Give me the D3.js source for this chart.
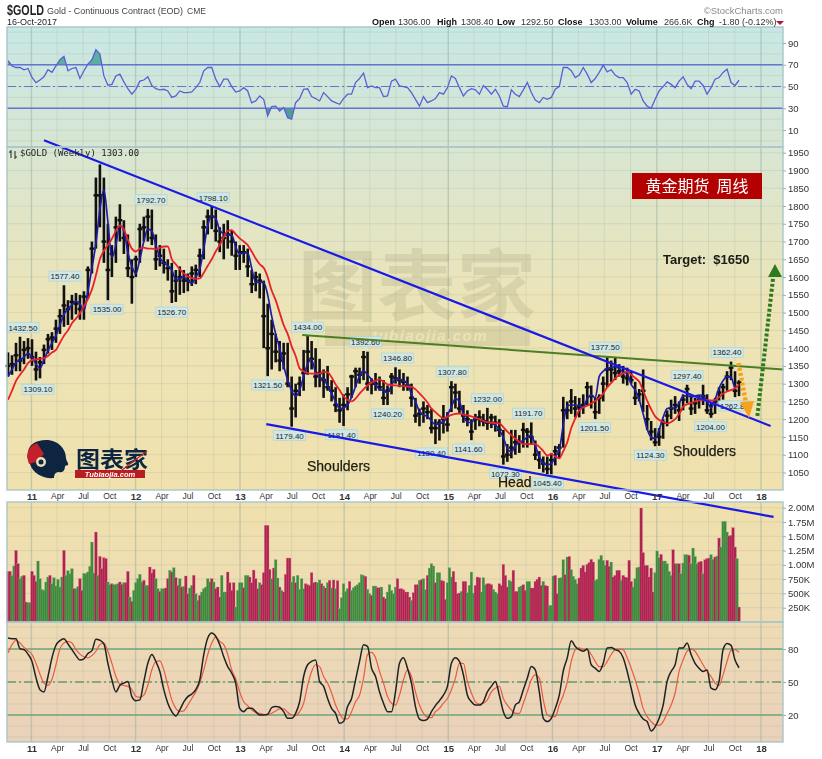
<!DOCTYPE html>
<html>
<head>
<meta charset="utf-8">
<script src="https://cdn.jsdelivr.net/npm/d3@7"></script>
<style>
  html, body { margin: 0; padding: 0; background: #fff; }
  svg { display: block; filter: blur(0.3px); }
  text { font-family: "Liberation Sans", Arial, sans-serif; }
  .axis path { display: none; }
  .axis line { stroke: #8fb0b0; }
  .axis text { fill: #333; font-size: 9.5px; }
  .time-axis line { display: none; }
  .time-axis text { fill: #333; font-size: 8.5px; }
</style>
</head>
<body>
<svg id="chart" width="822" height="759"></svg>
<script>
var firstWeek = new Date(2010, 9, 11);

var priceHigh = [1388,1380,1415,1432,1420,1428,1425,1390,1375,1410,1440,1445,1480,1510,1577,1535,1550,1555,1550,1560,1630,1700,1880,1917,1880,1750,1690,1770,1805,1760,1720,1650,1660,1750,1770,1792,1790,1720,1690,1680,1650,1640,1620,1630,1620,1610,1630,1635,1680,1760,1790,1798,1790,1740,1750,1760,1730,1700,1690,1690,1680,1620,1615,1610,1590,1525,1480,1440,1420,1415,1415,1320,1300,1320,1395,1434,1420,1400,1370,1340,1350,1310,1290,1260,1270,1290,1325,1345,1345,1392,1390,1315,1330,1320,1310,1295,1330,1346,1340,1330,1320,1300,1260,1230,1250,1240,1230,1200,1200,1240,1220,1307,1300,1280,1240,1225,1200,1215,1225,1215,1232,1215,1210,1200,1170,1130,1170,1170,1155,1190,1175,1191,1140,1110,1095,1095,1105,1125,1130,1263,1250,1285,1265,1260,1270,1305,1295,1260,1270,1320,1377,1365,1375,1355,1350,1345,1335,1305,1285,1340,1240,1195,1175,1175,1200,1225,1255,1265,1250,1270,1297,1270,1260,1265,1297,1270,1245,1260,1290,1300,1335,1362,1335,1310];
var priceLow = [1320,1325,1335,1335,1355,1370,1350,1309,1315,1355,1385,1395,1415,1440,1460,1465,1480,1495,1480,1480,1540,1610,1680,1740,1640,1535,1600,1640,1700,1665,1600,1525,1600,1640,1700,1700,1690,1620,1630,1610,1590,1527,1530,1550,1555,1560,1575,1580,1600,1650,1720,1735,1700,1670,1650,1680,1660,1620,1620,1640,1600,1555,1560,1540,1400,1321,1340,1360,1335,1340,1290,1179,1205,1265,1280,1325,1340,1290,1290,1260,1280,1250,1220,1190,1181,1225,1260,1290,1300,1310,1280,1270,1280,1280,1240,1240,1270,1300,1290,1280,1280,1235,1190,1180,1190,1200,1160,1130,1140,1160,1165,1220,1230,1215,1190,1180,1141,1170,1180,1180,1170,1175,1165,1150,1072,1080,1090,1100,1105,1120,1120,1130,1085,1060,1050,1045,1045,1070,1090,1120,1200,1215,1205,1205,1215,1240,1230,1200,1215,1250,1290,1305,1310,1320,1300,1295,1300,1240,1250,1220,1170,1140,1124,1125,1145,1180,1200,1215,1195,1225,1245,1212,1215,1230,1240,1215,1204,1215,1240,1255,1280,1310,1262,1265];
var priceClose = [1350,1355,1380,1365,1395,1400,1375,1340,1360,1395,1425,1430,1455,1490,1520,1510,1530,1525,1510,1545,1620,1680,1830,1830,1700,1620,1665,1740,1760,1710,1625,1600,1650,1735,1740,1770,1710,1650,1660,1640,1625,1560,1590,1600,1590,1590,1610,1620,1660,1740,1770,1770,1730,1700,1710,1720,1700,1660,1670,1670,1630,1580,1600,1590,1490,1400,1440,1390,1365,1385,1300,1230,1280,1300,1330,1390,1370,1320,1330,1310,1290,1280,1240,1225,1240,1270,1320,1335,1325,1375,1300,1300,1300,1290,1260,1280,1320,1315,1310,1305,1295,1260,1210,1215,1230,1220,1175,1175,1190,1200,1185,1290,1275,1230,1210,1200,1165,1200,1205,1195,1190,1205,1190,1170,1095,1100,1120,1135,1135,1170,1165,1150,1100,1085,1075,1060,1085,1110,1120,1225,1225,1250,1230,1235,1240,1290,1265,1220,1260,1300,1340,1340,1330,1335,1320,1315,1310,1260,1270,1280,1200,1165,1135,1150,1190,1210,1230,1240,1225,1255,1285,1230,1245,1255,1265,1225,1215,1250,1275,1290,1320,1345,1280,1303];
var maFast = [1320,1340,1360,1366,1375,1385,1375,1355,1343,1367,1392,1415,1435,1465,1495,1510,1522,1532,1525,1505,1560,1625,1695,1790,1845,1755,1655,1690,1746,1730,1670,1630,1610,1650,1700,1735,1730,1690,1655,1640,1632,1620,1592,1595,1600,1590,1582,1600,1622,1680,1745,1772,1765,1732,1722,1718,1718,1685,1665,1668,1668,1625,1585,1585,1585,1550,1490,1440,1400,1350,1310,1280,1265,1282,1320,1355,1368,1330,1318,1312,1295,1272,1250,1230,1232,1240,1262,1292,1322,1336,1325,1312,1298,1285,1280,1275,1295,1313,1312,1308,1300,1270,1250,1222,1212,1208,1195,1185,1188,1192,1212,1235,1258,1250,1212,1192,1190,1204,1200,1195,1192,1188,1184,1170,1148,1118,1108,1125,1135,1140,1150,1155,1125,1095,1075,1072,1075,1095,1113,1185,1238,1240,1240,1238,1235,1258,1268,1260,1320,1335,1343,1346,1348,1342,1333,1329,1298,1282,1255,1215,1172,1150,1146,1170,1205,1230,1232,1231,1245,1265,1266,1263,1265,1268,1265,1250,1232,1255,1287,1308,1320,1318,1290,1296];
var maSlow = [1255,1280,1308,1325,1340,1358,1366,1368,1370,1372,1378,1388,1395,1415,1435,1450,1470,1483,1498,1518,1538,1565,1605,1650,1674,1690,1708,1730,1745,1735,1705,1680,1672,1680,1683,1680,1680,1678,1682,1686,1686,1650,1636,1622,1610,1602,1598,1595,1596,1612,1632,1650,1672,1690,1712,1730,1732,1720,1709,1700,1690,1672,1652,1636,1626,1600,1562,1535,1500,1465,1440,1405,1378,1343,1335,1330,1328,1328,1329,1333,1332,1318,1298,1282,1264,1255,1250,1258,1272,1284,1295,1303,1308,1312,1305,1298,1296,1295,1294,1293,1292,1291,1284,1273,1261,1247,1230,1220,1210,1202,1207,1212,1215,1216,1213,1211,1208,1204,1200,1195,1192,1190,1189,1188,1178,1165,1155,1145,1136,1130,1130,1130,1130,1122,1110,1098,1102,1095,1090,1110,1135,1175,1202,1225,1233,1238,1244,1251,1260,1272,1290,1302,1315,1324,1329,1334,1325,1316,1306,1280,1252,1228,1208,1198,1192,1188,1192,1200,1215,1235,1242,1246,1250,1253,1254,1254,1253,1254,1262,1272,1278,1282,1287,1297];
var rsiValues = [73.7,69,67.5,67.5,65.4,66.6,58.3,53.7,56,59,65.4,63,69,74.6,77.7,64.5,66.6,67.5,57.4,64.5,70.6,74.6,83.8,79.8,59.8,51.2,52,59.8,61.4,54.3,48,43,47.5,55,56,59,51,48,47,47.5,46,40,41.4,46,44.5,44.5,45,49,53.7,64.5,67.5,67.5,56.8,50,56.8,56.8,50,45,46,49,46,35,36.8,41.4,38.3,23,31.5,32,27.5,30.6,21.4,20,35.2,39,47.5,48,40.8,39,36.8,44.5,40.8,36.8,35.2,33.7,39,43,43,53.7,57.4,62.3,49,50.6,49,49,40.8,41.4,55,56.8,50.6,50,49,44.5,38.3,32,40.8,35.2,36.8,39,44.5,43,49,59.8,57.4,49,41.4,46,48,47,43,51,47.5,43,47.5,41.4,32,31.5,47,43,40.8,47,53.7,44.5,37.7,35.2,40,38.3,40,47.5,50,67.5,67.5,64.5,58.3,60.5,67.5,61.4,53.7,57.4,63,69.7,63.5,65.4,60.5,58.3,58.3,53.7,43,47.5,46,36.8,32,30,38.3,46,50,54.3,52,49,55,59,52,48,55,55,51,43,49,56.8,58.3,63,66,53.7,51,55.8];
var stochK = [90,89.4,89.4,80.3,79.4,75.4,68.7,54,43,41,55,72,83.4,87.6,89.4,84.6,79.4,74,70,71,76,78.5,89,88,84.6,67,52,41,47,49,50.5,36.7,33,33.7,50.5,67,75,68.7,59.6,43,30.7,23,19,24.6,32,36.7,39,43,52,75,90,94.6,91.6,84,73,64,58,49,26,23,26,26,23,20,20,20.6,26.7,27.6,27,23,17,17,21.5,32,55,65.7,68.7,70,50.5,46,35,26,21.5,12.4,14,27.6,35,52,68.7,84,82.4,62.6,55,41,30.7,23,23,41,67,72,62.6,49,27.6,16.3,15,16.3,23,28.5,33,38,46,67,72,68.7,56.5,38,32,29,29,32,41,46,50.5,38,23,17,18.5,29,32,43,53.5,64,61,41,17,14,17,26,38,60,72,87.6,82.4,79.4,78,80,65.7,62.6,59.6,67,81,81.5,79.4,78,72,59.6,44.4,29,21.5,16.3,14,5.4,9.3,17,29,50.5,59.6,65.7,81,81,85.5,75,67,62.6,59.6,61,44.4,43,50.5,79.4,85,83.3,70,63];
var stochD = [76.3,84,88,85.5,81.5,78.5,75,67,57,49,47,52.5,65.7,80.3,85.5,87,85.5,79.4,75.4,73,72,74,78,84,85.5,78,67,55,48,46.8,46,43,37,36,38,47,61,68.7,69.3,61,47,33.7,26,23,23.7,29,35,41,49,61,75,85.5,90.6,87,84,75,61,53,41,32,28.5,24.6,22.4,21.5,20.6,20,21.5,23.7,25.5,25.5,22.4,20,19.4,23,30.7,47,59.6,65.7,64,55,49,40,29,21.5,16.4,16.4,23,32,38,53.5,75,77,72,59.6,49,36.7,30.7,29,38,52,61,55,41,29,21.5,18,17.5,23,26,30.7,35,43,53.5,67,67,50.5,40,32,30,30.7,33.7,41,44.4,46,35,29,24.6,21.5,21.5,30.7,41,52,56.5,53.5,33.7,20,18.5,18.5,29,38,50,68.7,79.4,81,79.4,79.4,75,68.7,64,64,68.7,75,79.4,80,79.4,72,62.6,52,40,26,18.5,14,11,10.6,14,21.5,29,40,59.6,70,78,80,78,72,65.7,59.6,55,49,47,56.5,68.7,78.8,79.4,77];

// one value per week, in thousands, colour letter for each week below
var volume = [886,886,816,980,1253,1020,758,800,816,350,338,338,886,816,711,1067,758,571,554,700,787,816,670,775,630,746,612,787,1253,816,898,845,933,583,583,618,758,554,851,845,875,974,1399,857,1574,816,1148,933,1125,1108,700,653,670,653,659,670,700,659,688,688,886,437,361,554,688,758,834,700,729,641,641,962,857,921,758,583,536,583,583,595,758,904,875,950,775,641,758,612,624,805,496,595,641,816,496,379,466,525,583,612,758,700,758,700,583,612,437,816,525,525,875,688,554,688,262,554,688,688,600,816,816,787,688,909,758,583,688,653,863,1691,1691,921,758,944,1090,770,612,554,525,834,1119,1119,700,800,688,816,571,758,583,670,653,641,863,688,700,688,735,670,630,595,688,729,595,735,583,723,233,425,670,536,583,711,554,600,630,653,688,828,816,799,571,496,466,630,630,600,600,612,437,408,525,653,554,496,612,758,583,583,565,525,525,437,379,513,653,653,729,740,758,565,816,944,1020,980,688,863,863,729,717,396,688,950,787,886,700,496,507,536,711,711,513,641,875,507,641,787,775,525,775,653,670,670,653,571,525,496,670,641,1009,816,612,729,711,904,536,536,612,630,653,554,711,711,595,595,711,746,787,641,711,641,630,292,292,805,816,496,770,775,1090,828,1137,1148,915,800,746,670,770,944,991,875,1009,1038,1096,1049,729,746,1096,1166,1079,991,1079,974,1049,787,816,904,904,729,816,787,775,1079,711,612,758,950,962,1994,1213,991,991,787,944,525,863,1242,1125,1183,1067,1067,1020,886,816,1265,1020,1020,1020,845,1032,1178,1178,1166,1020,1294,1148,1020,1049,1061,845,1090,1108,1119,1178,1096,1137,1154,1469,1312,1761,1761,1574,1504,1516,1650,1312,1108,262];
var volumeColors = "rrggrrggrr" + "ggrrrggggg" + "grggggggrg" + "gggrggrrgg" + "ggggrgrrrr" + "ggrgggrrgr" + "rgrgggggrg" + "grrrggrggr" + "rgrgrrgrgr" + "rggrggrggg" +
  "ggrgrrrggg" + "rrrrggggrg" + "grrrrrgrrr" + "rrgrggrgrr" + "rrggrggggr" + "rrrrrggrgr" + "grgrgrgggg" + "grgggggggr" + "ggrggrrgrr" + "gggggrrrrr" +
  "rrgrrrgrgg" + "rgggrggrrr" + "gggrrrrgrr" + "ggggrrrggg" + "rrrgggrrrr" + "rggrrrggrr" + "ggrrrrrrgr" + "rgggrrgggr" + "grggggrrrr" + "rrrrgggggg" +
  "rrgrrrrgrr" + "rrrggggrrr" + "rrrrgggrgg" + "gggrrgrggg" + "grggggrrgr" + "rrggrgrggg" + "grrrrgr";

var priceTicks = d3.range(1050, 1951, 50);
var rsiTicks = [90, 70, 50, 30, 10];
var volumeTicks = [250, 500, 750, 1000, 1250, 1500, 1750, 2000];
var volumeTickLabels = ["250K", "500K", "750K", "1.00M", "1.25M", "1.50M", "1.75M", "2.00M"];
var stochTicks = [80, 50, 20];

// callouts: text, week of the bar, above (1) or below (-1)
var calloutPrices = ["1432.50","1309.10","1577.40","1535.00","1792.70","1526.70","1798.10","1321.50","1434.00","1179.40","1392.60","1181.40","1346.80","1240.20","1307.80","1130.40","1141.60","1232.00","1072.30","1191.70","1045.40","1377.50","1201.50","1297.40","1124.30","1362.40","1204.00","1262.80"];
var calloutWeeks = [7.5,15,28.5,49.6,71.6,82,102.7,130,150,141,179,167,195,190,222.4,212,230.5,240,249,260.5,270,299,293.6,340,321.6,360,351.7,363.7];
var calloutSides = [1,-1,1,-1,1,-1,1,-1,1,-1,1,-1,1,-1,1,-1,-1,1,-1,1,-1,1,-1,1,-1,1,-1,-1];

// drawn annotations as [week, price]
var upperTrend = [[18, 1985], [381.8, 1181]];
var lowerTrend = [[129.3, 1186], [383.3, 925]];
var neckline = [[147.3, 1437], [388.3, 1340]];
var orangeArrow = [[365.7, 1358], [369.5, 1245]];
var greenArrow = [[375.2, 1209], [383.2, 1605]];

var svg = d3.select("#chart");
var weekDate = function(w) { return d3.timeHour.offset(firstWeek, w * 168); };

var x = d3.scaleTime()
  .domain([new Date(2011, 0, 3), new Date(2018, 0, 1)])
  .range([32, 761]);
var panelLeft = 7, panelRight = 783;

var yRsi = d3.scaleLinear().domain([-5.5, 104.7]).range([147, 27]);
var yPrice = d3.scaleLinear().domain([1050, 1950]).range([472.5, 152.7]);
var yVol = d3.scaleLinear().domain([0, 2000]).range([622, 507.7]);
var yStoch = d3.scaleLinear().domain([-4.6, 104.6]).range([742, 622]);

var defs = svg.append("defs");
var grad = defs.append("linearGradient").attr("id", "bg")
  .attr("gradientUnits", "userSpaceOnUse")
  .attr("x1", 0).attr("x2", 0).attr("y1", 27).attr("y2", 742);
[[0, "#c8e7e4"], [0.17, "#d8e6d2"], [0.38, "#ece4b8"], [0.65, "#f0e1ad"], [0.83, "#eedbb4"], [1, "#ead1ba"]].forEach(function(s) {
  grad.append("stop").attr("offset", s[0]).attr("stop-color", s[1]);
});
var clip = function(id, y1, y2) {
  defs.append("clipPath").attr("id", id).append("rect")
    .attr("x", panelLeft).attr("width", panelRight - panelLeft).attr("y", y1).attr("height", y2 - y1);
};
clip("above70", 27, yRsi(70));
clip("below30", yRsi(30), 147);

svg.append("rect").attr("x", panelLeft).attr("y", 27).attr("width", panelRight - panelLeft).attr("height", 715).attr("fill", "url(#bg)");
svg.append("rect").attr("x", panelLeft).attr("y", 490).attr("width", panelRight - panelLeft).attr("height", 12).attr("fill", "#fff");

// grid
var quarters = d3.timeMonth.range(new Date(2011, 0, 1), new Date(2018, 0, 2), 3);
var panels = [[27, 147], [147, 490], [502, 622], [622, 742]];
panels.forEach(function(p) {
  svg.append("g").selectAll("line").data(quarters).enter().append("line")
    .attr("x1", function(d) { return x(d); }).attr("x2", function(d) { return x(d); })
    .attr("y1", p[0]).attr("y2", p[1])
    .attr("stroke", function(d) { return d.getMonth() === 0 ? "#8fa99c" : "#a5b8a5"; })
    .attr("stroke-opacity", function(d) { return d.getMonth() === 0 ? 0.45 : 0.28; })
    .attr("stroke-width", function(d) { return d.getMonth() === 0 ? 1.4 : 1; });
});
var hGrid = function(values, scale) {
  svg.append("g").selectAll("line").data(values).enter().append("line")
    .attr("x1", panelLeft).attr("x2", panelRight)
    .attr("y1", function(d) { return scale(d); }).attr("y2", function(d) { return scale(d); })
    .attr("stroke", "#8f9f90").attr("stroke-opacity", 0.2);
};
hGrid(d3.range(0, 101, 10), yRsi);
hGrid(priceTicks, yPrice);
hGrid(volumeTicks, yVol);
hGrid(d3.range(0, 101, 10), yStoch);

// watermark
var mark = svg.append("g");
mark.append("text").attr("x", 298).attr("y", 315).attr("font-size", 78).attr("font-weight", 700)
  .attr("textLength", 238).attr("lengthAdjust", "spacingAndGlyphs")
  .style("font-family", "'Noto Sans CJK SC'").attr("fill", "#8f8f6a").attr("fill-opacity", 0.2).text("图表家");
mark.append("rect").attr("x", 325).attr("y", 326).attr("width", 205).attr("height", 20).attr("fill", "#8f8f6a").attr("fill-opacity", 0.2);
mark.append("text").attr("x", 430).attr("y", 341).attr("text-anchor", "middle").attr("font-size", 15).attr("font-weight", 700)
  .attr("font-style", "italic").attr("letter-spacing", 1.5).attr("fill", "#efe7b8").attr("fill-opacity", 0.85).text("tubiaojia.com");

// RSI panel
var weeksOf = priceHigh.map(function(d, i) { return weekDate(i * 2); });
var rsiLine = d3.line().x(function(d, i) { return x(weeksOf[i]); }).y(function(d) { return yRsi(d); });
var rsiArea = function(level) {
  return d3.area().x(function(d, i) { return x(weeksOf[i]); }).y0(yRsi(level)).y1(function(d) { return yRsi(d); });
};
svg.append("path").datum(rsiValues).attr("d", rsiArea(70)).attr("fill", "#5cae9f").attr("clip-path", "url(#above70)");
svg.append("path").datum(rsiValues).attr("d", rsiArea(30)).attr("fill", "#4f9c98").attr("clip-path", "url(#below30)");
[70, 30].forEach(function(v) {
  svg.append("line").attr("x1", panelLeft).attr("x2", panelRight).attr("y1", yRsi(v)).attr("y2", yRsi(v))
    .attr("stroke", "#6474cf").attr("stroke-width", 1.5);
});
svg.append("line").attr("x1", panelLeft).attr("x2", panelRight).attr("y1", yRsi(50)).attr("y2", yRsi(50))
  .attr("stroke", "#6474cf").attr("stroke-width", 1.1).attr("stroke-dasharray", "9,3,2,3");
svg.append("path").datum(rsiValues).attr("d", rsiLine).attr("fill", "none").attr("stroke", "#5a5fd6").attr("stroke-width", 1.3);

// price bars
var bars = svg.append("g").selectAll("g").data(priceHigh).enter().append("g");
bars.append("line")
  .attr("x1", function(d, i) { return x(weeksOf[i]); }).attr("x2", function(d, i) { return x(weeksOf[i]); })
  .attr("y1", function(d) { return yPrice(d); })
  .attr("y2", function(d, i) { return yPrice(priceLow[i]); })
  .attr("stroke", "#111").attr("stroke-width", 2.6);
bars.append("line")
  .attr("x1", function(d, i) { return x(weeksOf[i]) - 2.4; }).attr("x2", function(d, i) { return x(weeksOf[i]) + 2.4; })
  .attr("y1", function(d, i) { return yPrice(priceClose[i]); })
  .attr("y2", function(d, i) { return yPrice(priceClose[i]); })
  .attr("stroke", "#111").attr("stroke-width", 2.4);

var maLine = d3.line().x(function(d, i) { return x(weeksOf[i]); }).y(function(d) { return yPrice(d); }).curve(d3.curveMonotoneX);
svg.append("path").datum(maFast).attr("d", maLine).attr("fill", "none").attr("stroke", "#1c1ca8").attr("stroke-width", 1.7);
svg.append("path").datum(maSlow).attr("d", maLine).attr("fill", "none").attr("stroke", "#e8202a").attr("stroke-width", 1.8);

// callouts
var callouts = svg.append("g").selectAll("g").data(calloutPrices).enter().append("g")
  .attr("transform", function(d, i) {
    return "translate(" + x(weekDate(calloutWeeks[i])) + "," + yPrice(+d) + ")";
  });
callouts.append("path")
  .attr("d", function(d, i) { var s = calloutSides[i]; return "M0,0L-3," + (-4 * s) + "L3," + (-4 * s) + "Z"; })
  .attr("fill", "#cfe8e6");
callouts.append("rect")
  .attr("x", -16).attr("width", 32).attr("height", 10)
  .attr("y", function(d, i) { return calloutSides[i] > 0 ? -14 : 4; })
  .attr("fill", "#cfe8e6").attr("stroke", "#b2d3d3").attr("stroke-width", 0.7);
callouts.append("text")
  .attr("text-anchor", "middle").attr("font-size", 8).attr("fill", "#222")
  .attr("y", function(d, i) { return calloutSides[i] > 0 ? -6 : 12; })
  .text(function(d) { return d; });

// trend lines
var annLine = d3.line().x(function(d) { return x(weekDate(d[0])); }).y(function(d) { return yPrice(d[1]); });
svg.append("path").datum(neckline).attr("d", annLine).attr("fill", "none").attr("stroke", "#4b7f24").attr("stroke-width", 2);
svg.append("path").datum(upperTrend).attr("d", annLine).attr("fill", "none").attr("stroke", "#1a1ae6").attr("stroke-width", 2.2);
svg.append("path").datum(lowerTrend).attr("d", annLine).attr("fill", "none").attr("stroke", "#1a1ae6").attr("stroke-width", 2.2);
svg.append("path").datum(orangeArrow).attr("d", annLine).attr("fill", "none").attr("stroke", "#f7a21b").attr("stroke-width", 4.5).attr("stroke-dasharray", "3,2");
svg.append("path").datum(greenArrow).attr("d", annLine).attr("fill", "none").attr("stroke", "#2f7a1f").attr("stroke-width", 4).attr("stroke-dasharray", "3,2");
svg.append("path").attr("d", "M749,418L740,402L754,401Z").attr("fill", "#f7a21b");
svg.append("path").attr("d", "M775,264L768,277L782,277Z").attr("fill", "#2f7a1f");

// volume
svg.append("g").selectAll("rect").data(volume).enter().append("rect")
  .attr("x", function(d, i) { return x(weekDate(i)) - 1.3; })
  .attr("width", 2.6)
  .attr("y", function(d) { return yVol(d); })
  .attr("height", function(d) { return yVol(0) - yVol(d); })
  .attr("fill", function(d, i) { return volumeColors[i] === "r" ? "#b0224f" : "#3f8a3c"; })
  .attr("stroke", function(d, i) { return volumeColors[i] === "r" ? "#d0708c" : "#7fb27a"; })
  .attr("stroke-width", 0.3);

// stochastics
[80, 20].forEach(function(v) {
  svg.append("line").attr("x1", panelLeft).attr("x2", panelRight).attr("y1", yStoch(v)).attr("y2", yStoch(v))
    .attr("stroke", "#6fa67a").attr("stroke-width", 1.6);
});
svg.append("line").attr("x1", panelLeft).attr("x2", panelRight).attr("y1", yStoch(50)).attr("y2", yStoch(50))
  .attr("stroke", "#2e7d4f").attr("stroke-width", 1).attr("stroke-dasharray", "9,3,2,3");
var stochLine = d3.line().x(function(d, i) { return x(weeksOf[i]); }).y(function(d) { return yStoch(d); }).curve(d3.curveMonotoneX);
svg.append("path").datum(stochD).attr("d", stochLine).attr("fill", "none").attr("stroke", "#ea5a44").attr("stroke-width", 1.2);
svg.append("path").datum(stochK).attr("d", stochLine).attr("fill", "none").attr("stroke", "#222").attr("stroke-width", 1.5);

// panel frames
panels.forEach(function(p) {
  svg.append("rect").attr("x", panelLeft).attr("y", p[0]).attr("width", panelRight - panelLeft).attr("height", p[1] - p[0])
    .attr("fill", "none").attr("stroke", "#a9c6ca").attr("stroke-width", 1.4);
});

// axes
svg.append("g").attr("class", "axis").attr("transform", "translate(" + panelRight + ",0)")
  .call(d3.axisRight(yRsi).tickValues(rsiTicks).tickSize(3).tickPadding(2));
svg.append("g").attr("class", "axis").attr("transform", "translate(" + panelRight + ",0)")
  .call(d3.axisRight(yPrice).tickValues(priceTicks).tickSize(3).tickPadding(2).tickFormat(d3.format("d")));
svg.append("g").attr("class", "axis").attr("transform", "translate(" + panelRight + ",0)")
  .call(d3.axisRight(yVol).tickValues(volumeTicks).tickSize(3).tickPadding(2)
    .tickFormat(function(d, i) { return volumeTickLabels[i]; }));
svg.append("g").attr("class", "axis").attr("transform", "translate(" + panelRight + ",0)")
  .call(d3.axisRight(yStoch).tickValues(stochTicks).tickSize(3).tickPadding(2));

var timeFormat = function(d) {
  if (d.getMonth() === 0) return d3.timeFormat("%y")(d);
  return d3.timeFormat("%b")(d);
};
[490, 742].forEach(function(y) {
  var ax = svg.append("g").attr("class", "axis time-axis").attr("transform", "translate(0," + y + ")")
    .call(d3.axisBottom(x).tickValues(quarters).tickFormat(timeFormat).tickSize(0).tickPadding(3));
  ax.selectAll("text").attr("font-weight", function(d) { return d.getMonth() === 0 ? 700 : 400; })
    .style("font-size", function(d) { return d.getMonth() === 0 ? "9.5px" : "8.5px"; });
});

// header
var addText = function(tx, ty, str, size, weight, color, extra) {
  var t = svg.append("text").attr("x", tx).attr("y", ty).attr("font-size", size)
    .attr("font-weight", weight || 400).attr("fill", color || "#222").text(str);
  if (extra) t.attr("text-anchor", extra);
  return t;
};
addText(7, 15, "$GOLD", 14, 700).attr("textLength", 37).attr("lengthAdjust", "spacingAndGlyphs");
addText(47, 14, "Gold - Continuous Contract (EOD)", 9, 400, "#444").attr("textLength", 136).attr("lengthAdjust", "spacingAndGlyphs");
addText(187, 14, "CME", 8.5, 400, "#444");
addText(7, 25, "16-Oct-2017", 9, 400);
var headerLabels = ["Open", "High", "Low", "Close", "Volume", "Chg"];
var headerLabelX = [372, 437, 497, 558, 626, 697];
var headerValues = ["1306.00", "1308.40", "1292.50", "1303.00", "266.6K", "-1.80 (-0.12%)"];
var headerValueX = [398, 461, 521, 589, 664, 719];
headerLabels.forEach(function(s, i) {
  addText(headerLabelX[i], 25, s, 9, 700, "#111");
  addText(headerValueX[i], 25, headerValues[i], 9, 400, "#333");
});
svg.append("path").attr("d", "M776,21L784,21L780,25Z").attr("fill", "#b3123c");
addText(783, 14, "©StockCharts.com", 9.5, 400, "#8a8a8a", "end");

svg.append("text").attr("x", 20).attr("y", 156).attr("font-size", 9).attr("fill", "#222")
  .style("font-family", "'DejaVu Sans Mono'").text("$GOLD (Weekly) 1303.00");
svg.append("path").attr("d", "M11,150V158M9,152H11M15,151V159M15,157H17").attr("stroke", "#222").attr("fill", "none");

// overlay notes
addText(307, 471, "Shoulders", 14, 400, "#1c1c14").attr("stroke", "#1c1c14").attr("stroke-width", 0.25);
addText(673, 456, "Shoulders", 14, 400, "#1c1c14").attr("stroke", "#1c1c14").attr("stroke-width", 0.25);
addText(498, 487, "Head", 14, 400, "#1c1c14").attr("stroke", "#1c1c14").attr("stroke-width", 0.25);
addText(663, 264, "Target:  $1650", 13, 700, "#1c1c14").style("white-space", "pre");
svg.append("rect").attr("x", 632).attr("y", 173).attr("width", 130).attr("height", 26).attr("fill", "#b30000");
svg.append("text").attr("x", 697).attr("y", 192).attr("text-anchor", "middle").attr("font-size", 16).attr("fill", "#fff")
  .style("font-family", "'Noto Sans CJK SC'").style("white-space", "pre").text("黄金期货  周线");

// logo
var logo = svg.append("g");
logo.append("path")
  .attr("d", "M28,455C27,445 36,440 46,440C59,440 66,450 66,458C66,461 69,463 68,465L65,466C65,470 63,473 59,472C56,472 54,474 54,478C44,479 33,474 30,464C28,461 28,458 28,455Z")
  .attr("fill", "#0d2540");
logo.append("path").attr("d", "M27,457C27,450 31,445 37,443L44,454L36,462L29,464Z").attr("fill", "#c4202a");
logo.append("circle").attr("cx", 41).attr("cy", 462).attr("r", 5).attr("fill", "#e8e0b8");
logo.append("circle").attr("cx", 41).attr("cy", 462).attr("r", 2.5).attr("fill", "#0d2540");
logo.append("text").attr("x", 76).attr("y", 467).attr("font-size", 22).attr("font-weight", 700)
  .attr("textLength", 72).attr("lengthAdjust", "spacingAndGlyphs")
  .style("font-family", "'Noto Sans CJK SC'").attr("fill", "#0d2540").text("图表家");
logo.append("rect").attr("x", 75).attr("y", 470).attr("width", 70).attr("height", 8).attr("fill", "#b81d24");
logo.append("text").attr("x", 110).attr("y", 477).attr("text-anchor", "middle").attr("font-size", 7.5).attr("font-weight", 700)
  .attr("font-style", "italic").attr("fill", "#fff").text("Tubiaojia.com");
logo.append("path").attr("d", "M122,470L147,451").attr("stroke", "#c4202a").attr("stroke-width", 1.2).attr("fill", "none");
</script>
</body>
</html>
